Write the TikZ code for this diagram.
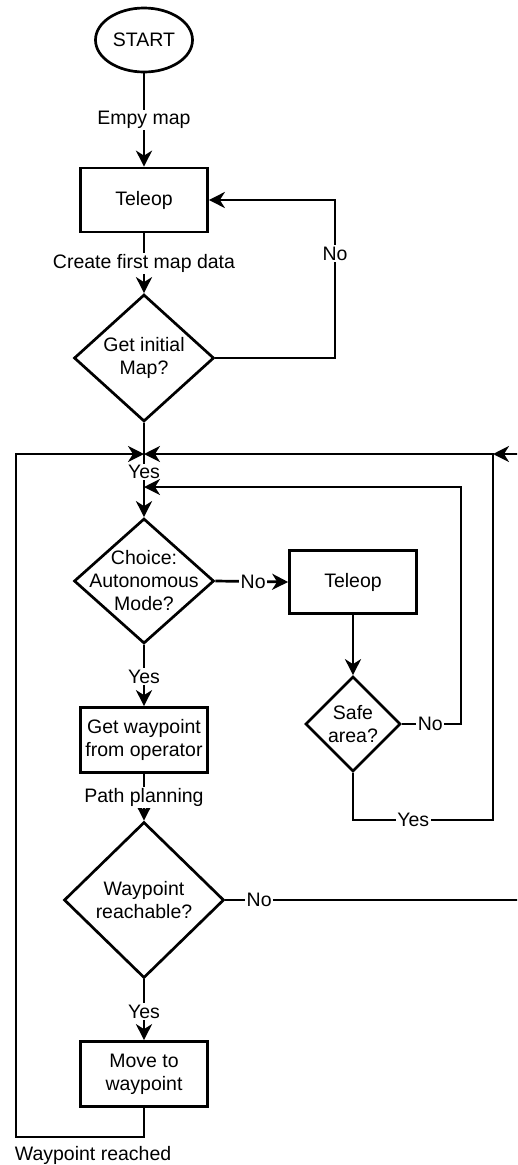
\documentclass[tikz,border=0pt]{standalone}
\usepackage{fontspec}
\setmainfont{Liberation Sans}
\usetikzlibrary{shapes.geometric,arrows.meta}
\begin{document}
\begin{tikzpicture}[x=1pt,y=-1pt,
  line width=2.7pt,
  every node/.style={font=\fontsize{19.5}{23}\selectfont, align=center},
  proc/.style={draw, rectangle, minimum width=127pt, minimum height=64pt, inner sep=2pt},
  dec/.style={draw, diamond, inner sep=-30pt},
  term/.style={draw, ellipse, minimum width=97pt, minimum height=64pt, inner sep=1pt},
  lab/.style={fill=white, inner sep=1.5pt, draw=none},
  arr/.style={-{Stealth[length=16pt,width=16pt,inset=5pt]}}
]
\useasboundingbox (0,0) rectangle (517,1165);
\clip (0,0) rectangle (517,1165);

% nodes
\node[term] (start) at (144,40) {START};
\node[proc] (tel1) at (144,200) {Teleop};
\node[dec, minimum width=140pt, minimum height=127pt] (getmap) at (144,358) {Get initial\\Map?};
\node[dec, minimum width=140pt, minimum height=125pt] (choice) at (144,581) {Choice:\\Autonomous\\Mode?};
\node[proc, minimum height=63pt] (tel2) at (353,582) {Teleop};
\node[dec, minimum width=95pt, minimum height=95pt] (safe) at (353,724) {Safe\\area?};
\node[proc, minimum height=65pt] (getwp) at (144,740) {Get waypoint\\from operator};
\node[dec, minimum width=160pt, minimum height=156pt] (reach) at (144,900) {Waypoint\\reachable?};
\node[proc, minimum height=65pt] (move) at (144,1074) {Move to\\waypoint};
\node[lab, anchor=west] (wr) at (12,1155) {Waypoint reached};

% corner / junction coordinates
\coordinate (j1) at (144,454);
\coordinate (j2) at (493,454);
\coordinate (j3) at (144,487);
\coordinate (cNo) at (335,0);
\coordinate (cL) at (16,1137);
\coordinate (cY) at (493,820);
\coordinate (cR) at (522,900);
\coordinate (cIn) at (461,724);

% connectors
\draw[arr] (start) -- node[lab]{Empy map} (tel1);
\draw[arr] (tel1) -- node[lab]{Create first map data} (getmap);
\draw[arr] (getmap.east) -- (getmap.east -| cNo) -- node[lab, pos=0.66]{No} (tel1.east -| cNo) -- (tel1.east);
\draw[arr] (getmap) -- node[lab, pos=0.52]{Yes} (choice);
\draw[arr] (choice.east) -- node[lab, pos=0.52]{No} (tel2.west);
\draw[arr] (tel2) -- (safe);
\draw[arr] (safe.east) -- node[lab, pos=0.48]{No} (cIn) -- (cIn |- j3) -- (j3);
\draw[arr] (safe.south) -- (safe.south |- cY) -- node[lab, pos=0.43]{Yes} (cY) -- (j2) -- (j1);
\draw[arr] (choice) -- node[lab, pos=0.52]{Yes} (getwp);
\draw[arr] (getwp) -- node[lab]{Path planning} (reach);
\draw[arr] (reach.east) -- node[lab, pos=0.114]{No} (reach.east -| cR) -- (cR |- j2) -- (j2);
\draw[arr] (reach) -- node[lab, pos=0.53]{Yes} (move);
\draw[arr] (move.south) -- (move.south |- cL) -- (cL) -- (cL |- j1) -- (j1);
\end{tikzpicture}
\end{document}
